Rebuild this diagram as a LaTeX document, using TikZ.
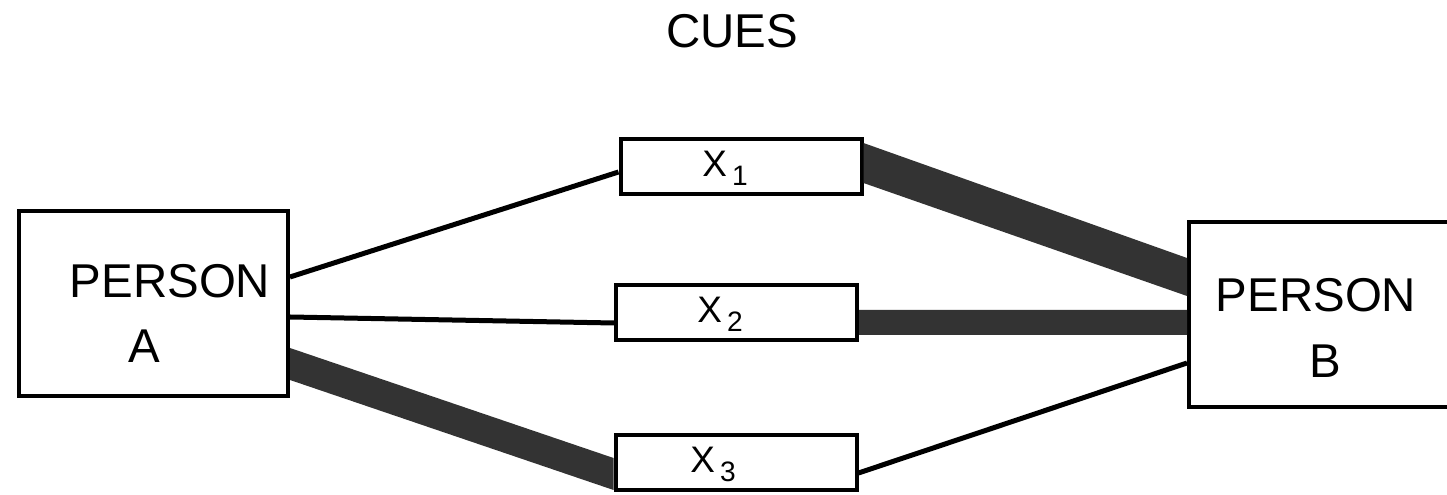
\documentclass[tikz,border=0pt]{standalone}
\usepackage{fontspec}
\setmainfont{Liberation Sans}

\newcommand{\cuename}[1]{X\kern3pt\raisebox{-5pt}{\fontsize{16}{16}\selectfont #1}}

\begin{document}
\begin{tikzpicture}[
  box/.style={draw, line width=0.08cm, inner sep=0pt},
  cue/.style={box, minimum width=4.82cm, minimum height=1.1cm},
  person/.style={box, minimum width=5.38cm, minimum height=3.7cm},
  big/.style={font=\fontsize{27}{30}\selectfont, inner sep=0pt, anchor=base},
  small/.style={font=\fontsize{21}{24}\selectfont, inner sep=0pt, anchor=base west},
  thin/.style={line width=0.1cm},
  band/.style={fill=black!80}
]
  \useasboundingbox (0,0) rectangle (28.94,9.9);
  \clip (0,0) rectangle (28.94,9.9);

  \node (cues) at (14.64, 8.94) [big] {CUES};

  \node (pa) at ( 3.07, 3.82) [person] {};
  \node (pb) at (26.47, 3.61) [person] {};
  \node (pa1) at ( 3.40, 3.94) [big] {PERSON};
  \node (pa2) at ( 2.88, 2.64) [big] {A};
  \node (pb1) at (26.32, 3.66) [big] {PERSON};
  \node (pb2) at (26.50, 2.34) [big] {B};

  \node (cx1) at (14.82, 6.56) [cue] {};
  \node (cx2) at (14.73, 3.65) [cue] {};
  \node (cx3) at (14.72, 0.65) [cue] {};
  \node (lx1) at (14.04, 6.36) [small] {\cuename{1}};
  \node (lx2) at (13.94, 3.44) [small] {\cuename{2}};
  \node (lx3) at (13.80, 0.44) [small] {\cuename{3}};

  % thin links
  \draw [thin] ([yshift=0.54cm]pa.east) -- ([yshift=-0.10cm]cx1.west);
  \draw [thin] ([yshift=-0.26cm]pa.east) -- ([yshift=-0.21cm]cx2.west);
  \draw [thin] ([yshift=-0.21cm]cx3.east) -- ([yshift=-0.97cm]pb.west);

  % heavy links
  \fill [band] ([yshift=0.48cm]cx1.east) -- ([yshift=1.13cm]pb.west)
    -- ([yshift=0.37cm]pb.west) -- ([yshift=-0.32cm]cx1.east) -- cycle;
  \fill [band] ([yshift=0.05cm]cx2.east) -- ([yshift=0.09cm]pb.west)
    -- ([yshift=-0.41cm]pb.west) -- ([yshift=-0.45cm]cx2.east) -- cycle;
  \fill [band] ([yshift=-0.88cm]pa.east) -- ([yshift=0.09cm]cx3.west)
    -- ([yshift=-0.55cm]cx3.west) -- ([yshift=-1.52cm]pa.east) -- cycle;
\end{tikzpicture}
\end{document}
